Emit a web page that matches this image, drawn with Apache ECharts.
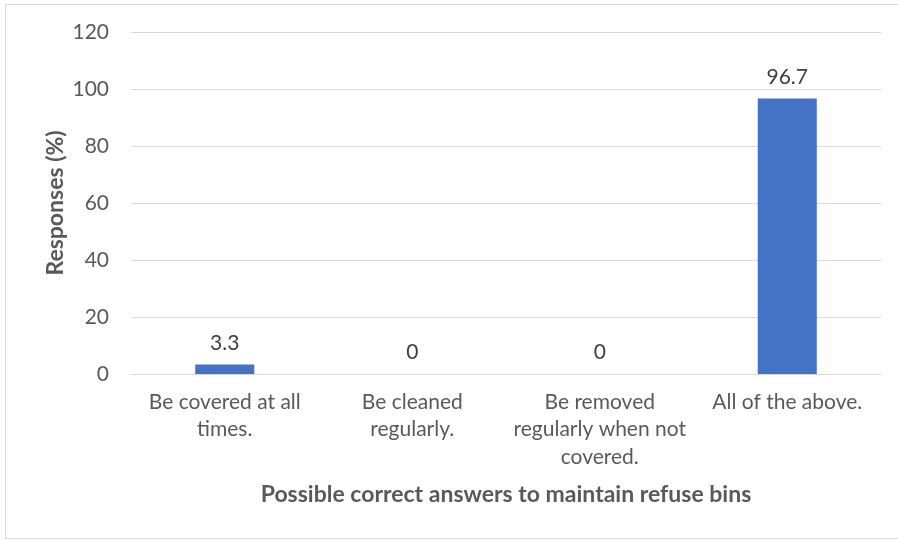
<!DOCTYPE html>
<html>
<head>
<meta charset="utf-8">
<script src="https://cdn.jsdelivr.net/npm/echarts@6/dist/echarts.min.js"></script>
<style>
  html, body { margin: 0; padding: 0; background: #ffffff; }
  #chart { width: 898px; height: 540px; }
</style>
</head>
<body>
<div id="chart"></div>
<script>
// Answer options shown along the horizontal axis
const categories = [
  'Be covered at all\ntimes.',
  'Be cleaned\nregularly.',
  'Be removed\nregularly when not\ncovered.',
  'All of the above.'
];
// Share of responses (%) for each option
const responses = [3.3, 0, 0, 96.7];
// Vertical axis scale
const yTicks = [0, 20, 40, 60, 80, 100, 120];

const FONT = 'Lato';
const chart = echarts.init(document.getElementById('chart'), null, { renderer: 'canvas' });

chart.setOption({
  backgroundColor: '#ffffff',
  animation: false,
  textStyle: { fontFamily: FONT },
  graphic: [{
    type: 'rect',
    shape: { x: 5.5, y: 4.5, width: 900, height: 534 },
    style: { fill: 'none', stroke: '#d9d9d9', lineWidth: 1 },
    silent: true
  }],
  grid: { left: 131, right: 17, top: 32, bottom: 166, containLabel: false },
  xAxis: {
    type: 'category',
    data: categories,
    name: 'Possible correct answers to maintain refuse bins',
    nameLocation: 'middle',
    nameGap: 109,
    nameMoveOverlap: false,
    nameTextStyle: { fontFamily: FONT, fontSize: 23, fontWeight: 'bold', color: '#595959' },
    axisLine: { show: true, lineStyle: { color: '#d9d9d9', width: 1 } },
    axisTick: { show: false },
    axisLabel: {
      interval: 0,
      margin: 14,
      color: '#595959',
      fontFamily: FONT,
      fontSize: 21,
      lineHeight: 27.5,
      align: 'center'
    }
  },
  yAxis: {
    type: 'value',
    min: yTicks[0],
    max: yTicks[yTicks.length - 1],
    interval: yTicks[1] - yTicks[0],
    name: 'Responses (%)',
    nameLocation: 'middle',
    nameGap: 64,
    nameMoveOverlap: false,
    nameRotate: 90,
    nameTextStyle: { fontFamily: FONT, fontSize: 23, fontWeight: 'bold', color: '#595959' },
    axisLine: { show: false },
    axisTick: { show: false },
    splitLine: { lineStyle: { color: '#d9d9d9', width: 1 } },
    axisLabel: { margin: 22, color: '#595959', fontFamily: FONT, fontSize: 21 }
  },
  series: [{
    type: 'bar',
    data: responses,
    barWidth: '31.5%',
    itemStyle: { color: '#4472c4' },
    label: {
      show: true,
      position: 'top',
      distance: 11,
      color: '#404040',
      fontFamily: FONT,
      fontSize: 21,
      formatter: p => String(p.value)
    }
  }]
});
</script>
</body>
</html>
